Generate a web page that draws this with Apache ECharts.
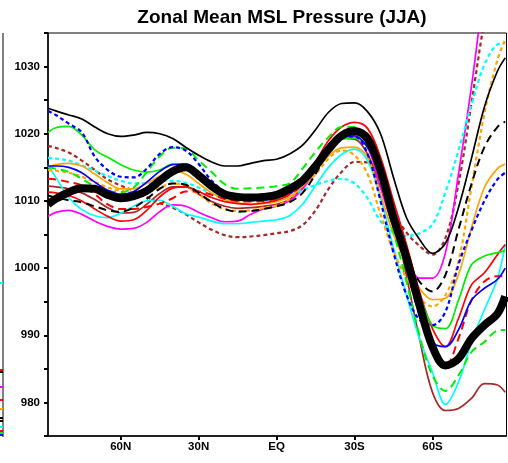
<!DOCTYPE html>
<html>
<head>
<meta charset="utf-8">
<script src="https://cdn.jsdelivr.net/npm/echarts@6/dist/echarts.min.js"></script>
<style>html,body{margin:0;padding:0;background:#fff;}#c{width:508px;height:463px;}</style>
</head>
<body>
<div id="c"></div>
<script>
const lats = [88, 85, 80, 75, 70, 65, 60, 55, 50, 45, 40, 35, 30, 25, 20, 15, 10, 5, 0, -5, -10, -15, -20, -25, -30, -35, -40, -45, -50, -55, -60, -65, -70, -75, -80, -85, -88];
const xTickValues = [60, 30, 0, -30, -60];

const obsThick   = [1009.5,1010.3,1011.3,1011.9,1011.8,1010.9,1010.4,1010.7,1011.5,1013,1014.4,1015,1013.8,1012.2,1011,1010.6,1010.5,1010.6,1010.9,1011.8,1013,1015.2,1017.7,1019.7,1020.4,1019.3,1014.5,1007.5,1001.5,994.5,988.3,985.5,986.5,989.5,991.5,993.2,995.8];
const blackSolid = [1023.8,1023.4,1022.8,1022.2,1021,1020,1019.6,1019.8,1020.2,1020,1019.3,1018,1016.8,1015.8,1015.2,1015.2,1015.6,1016,1016.2,1017,1018.3,1020.6,1023.2,1024.5,1024.6,1023.3,1020,1013.5,1007.5,1004.3,1002.2,1003.7,1009,1016.3,1024,1029.3,1031.3];
const blackDash  = [1010.8,1010.5,1010.1,1009.8,1009.2,1008.6,1008.4,1009,1010.3,1011.8,1012.6,1012.4,1011.2,1009.8,1008.8,1008.4,1008.5,1008.8,1009.2,1009.8,1011.2,1014,1017.5,1019.6,1020.1,1018.5,1014,1007,1001.5,998,996.5,999,1005.7,1012.5,1018,1021,1021.8];
const blueDash   = [1023.4,1022.8,1021.5,1020.2,1016.6,1014.6,1013.6,1013.5,1014.8,1017,1018,1017.5,1015.5,1013,1011.4,1010.8,1010.6,1010.6,1010.7,1011.2,1012.5,1014.8,1017.5,1019.3,1019.6,1017,1010,1002.3,996,992.3,991.5,993.5,1000.5,1005.6,1010,1013.2,1014.2];
const blueSolid  = [1015.2,1015.2,1015,1014.2,1012.8,1011.6,1011,1011.4,1012.8,1014.4,1015.4,1015.5,1014.3,1012.4,1011.2,1010.6,1010.4,1010.4,1010.6,1011.3,1012.8,1015,1017.8,1019.4,1019.7,1018,1014,1007,1000.5,994,989,988.3,990.8,995.2,997,998.3,1000];
const greenSolid = [1020.2,1020.9,1021.1,1019.8,1017.6,1016.5,1015.4,1014.6,1014.3,1014.6,1015.5,1015.4,1014.2,1012.5,1011.2,1010.7,1010.6,1010.7,1011,1011.6,1013,1015.3,1017.8,1019.2,1019.4,1018,1014.5,1007.5,1001.5,996,991.5,991,995.2,1000.5,1001.8,1002.3,1002.6];
const greenDash  = [1015,1014.8,1014.3,1013.3,1012.2,1011.5,1011.3,1012,1014.3,1016.6,1017.9,1017.8,1016,1014.3,1012.5,1011.8,1011.9,1012,1012.2,1012.6,1014.8,1017.3,1019.5,1021,1021,1019.3,1013.5,1005.5,998,990,984,981.7,984,987.5,989,990.7,990.8];
const redSolid   = [1011.3,1011.2,1010.8,1010,1008.8,1007.7,1007,1007.2,1008.6,1010.6,1011.9,1012.1,1011.4,1010.5,1009.9,1009.6,1009.5,1009.7,1010.1,1011,1012.8,1015.8,1019,1021,1021.7,1020.8,1016.5,1010,1003.5,996.5,991,988.3,992.5,997.5,999.3,1002,1003.5];
const redDash    = [1013.3,1013.2,1012.8,1012.3,1011,1009.5,1008.8,1008.8,1009.1,1009.6,1010.4,1011.4,1011.4,1010.9,1010.3,1010,1009.9,1010,1010.3,1011,1012.5,1015.2,1018.3,1020.2,1020.6,1019.5,1014,1007,1000,993,987.5,985.5,989.5,995.2,998,998.8,998.8];
const orangeSolid= [1015,1015.4,1015.6,1015.2,1014,1012.7,1011.8,1011.8,1012.6,1013.7,1014.5,1014,1012.6,1011.2,1010.2,1009.7,1009.5,1009.6,1009.9,1010.6,1012.2,1014.5,1016.7,1017.9,1018,1016.5,1011,1005,1000.5,997,995.3,995.5,999,1006,1012,1014.8,1015.5];
const orangeDash = [1014.6,1014.5,1014.2,1013.6,1012.8,1012,1011.5,1011.2,1011.3,1012,1012.6,1012.2,1011,1009.6,1008.8,1008.5,1008.6,1009,1009.3,1010.3,1012.3,1014,1016.3,1017.5,1016.8,1014,1008,1002.5,998.5,995.5,994.3,996,1001,1012,1023,1031,1034];
const cyanSolid  = [1015.3,1013.5,1010.5,1008.7,1007.8,1007.5,1008.2,1009.2,1010,1010.1,1009.2,1008.1,1007.6,1007,1006.6,1006.6,1006.8,1007,1007.2,1007.8,1009.5,1012.3,1015,1016.9,1017.7,1016,1010.5,1003,996,989.5,984.5,979.7,983,989,993.8,998.4,1003.5];
const cyanDash   = [1016.4,1016.3,1016,1015.3,1014.5,1013.7,1013,1012.6,1012.6,1012.9,1013,1012.7,1012,1011.1,1010.4,1010,1010,1010.1,1010.3,1010.8,1011.6,1012.4,1013,1013.3,1012.6,1010.4,1007,1005.3,1004.8,1005.2,1006.5,1011.3,1017.5,1024.3,1030.3,1033.3,1033.5];
const magenta    = [1007.7,1008.3,1008.6,1008,1007,1006.2,1005.8,1005.9,1006.8,1008.4,1009.4,1009.2,1008.3,1007.5,1006.9,1007,1008,1008.8,1009.2,1010,1011.8,1014.5,1017.5,1019.2,1019.5,1018,1012,1006,1001.5,998.5,998.5,1002.3,1014,1027,1042,1055,1062];
const brownSolid = [1012.2,1012.1,1011.8,1011.2,1010.2,1009,1008.2,1008.3,1009.5,1011.1,1012.1,1012.1,1011,1009.9,1009.2,1008.9,1009,1009.2,1009.5,1010.2,1012,1015,1017.8,1019.3,1019.2,1017,1012,1007.5,998.8,989.5,981.5,978.8,979.1,980.6,982.8,982.6,981.5];
const brownDash  = [1018.2,1017.9,1017.2,1016,1014.6,1013.2,1012.3,1011.5,1010.6,1009.7,1009,1008,1006.8,1005.7,1004.9,1004.6,1004.7,1004.9,1005.2,1005.5,1006.4,1008.6,1011.8,1014.3,1015.8,1015.7,1012.5,1008.3,1005.3,1003.3,1002,1004.5,1012.5,1024.5,1037,1048,1055];

const SHORT = [4, 3];
const LONG = [8, 5];
const lineDefs = [
  {name:'brownDash', data:brownDash, color:'#a52a2a', type:SHORT, w:2.2},
  {name:'brownSolid', data:brownSolid, color:'#a52a2a', type:'solid', w:1.7},
  {name:'magenta', data:magenta, color:'#ff00ff', type:'solid', w:1.7},
  {name:'cyanDash', data:cyanDash, color:'#00ffff', type:SHORT, w:2.2},
  {name:'cyanSolid', data:cyanSolid, color:'#00ffff', type:'solid', w:1.7},
  {name:'orangeDash', data:orangeDash, color:'#ffa500', type:SHORT, w:2.2},
  {name:'orangeSolid', data:orangeSolid, color:'#ffa500', type:'solid', w:1.7},
  {name:'redDash', data:redDash, color:'#ff0000', type:LONG, w:2},
  {name:'redSolid', data:redSolid, color:'#ff0000', type:'solid', w:1.7},
  {name:'greenDash', data:greenDash, color:'#00ee00', type:LONG, w:2},
  {name:'greenSolid', data:greenSolid, color:'#00ee00', type:'solid', w:1.7},
  {name:'blueSolid', data:blueSolid, color:'#0000ff', type:'solid', w:1.7},
  {name:'blueDash', data:blueDash, color:'#0000ff', type:SHORT, w:2.2},
  {name:'blackDash', data:blackDash, color:'#000000', type:LONG, w:2},
  {name:'blackSolid', data:blackSolid, color:'#000000', type:'solid', w:1.7},
  {name:'obsThick', data:obsThick, color:'#000000', type:'solid', w:8}
];

const series = lineDefs.map(d => ({
  name: d.name,
  type: 'line',
  data: lats.map((la, i) => [la, d.data[i]]),
  smooth: 0.35,
  symbol: 'none',
  clip: true,
  lineStyle: {color: d.color, width: d.w, type: d.type, cap: 'butt', join: 'round'},
  emphasis: {disabled: true}
}));

const fontFam = '"Liberation Sans", Arial, Helvetica, sans-serif';
const chart = echarts.init(document.getElementById('c'), null, {renderer: 'canvas'});

const leftMarks = [
  [283, '#00ffff'], [370, '#ff0000'], [372, '#000000'], [387, '#ff00ff'], [400, '#ff0000'],
  [409, '#ffa500'], [418, '#000000'], [421, '#000000'], [427, '#00ffff'], [431, '#ff0000'],
  [433, '#00ee00'], [435, '#0000ff']
];
const graphics = [
  {type:'line', shape:{x1:3, y1:33, x2:3, y2:437}, style:{stroke:'#808080', lineWidth:2}, silent:true}
].concat(leftMarks.map(m => ({type:'rect', shape:{x:0, y:m[0]-1, width:3, height:2}, style:{fill:m[1]}, silent:true})));

chart.setOption({
  animation: false,
  backgroundColor: '#ffffff',
  title: {
    text: 'Zonal Mean MSL Pressure (JJA)',
    left: 277, textAlign: 'center', top: 3,
    textStyle: {fontFamily: fontFam, fontSize: 19, fontWeight: 'bold', color: '#000'}
  },
  grid: {left: 48, right: 1.5, top: 33, bottom: 27, show: true, borderColor: '#000', borderWidth: 1, containLabel: false},
  xAxis: {
    type: 'value', min: -88.5, max: 88, inverse: true,
    axisLine: {show: true, onZero: false, lineStyle: {color: '#000', width: 1.5}},
    axisTick: {show: true, customValues: xTickValues, length: 4, lineStyle: {color: '#000', width: 2}},
    axisLabel: {
      customValues: xTickValues, margin: 5,
      fontFamily: fontFam, fontSize: 11.5, fontWeight: 'bold', color: '#000',
      formatter: v => v > 0 ? v + 'N' : (v < 0 ? (-v) + 'S' : 'EQ')
    },
    splitLine: {show: false}
  },
  yAxis: {
    type: 'value', min: 975, max: 1035, interval: 5,
    axisLine: {show: true, onZero: false, lineStyle: {color: '#000', width: 1.5}},
    axisTick: {show: true, length: 4, lineStyle: {color: '#000', width: 2}},
    axisLabel: {
      margin: 8, fontFamily: fontFam, fontSize: 11.5, fontWeight: 'bold', color: '#000',
      formatter: v => (v % 10 === 0 && v > 975 && v < 1035) ? String(v) : ''
    },
    splitLine: {show: false}
  },
  graphic: graphics,
  series: series
});
</script>
</body>
</html>
